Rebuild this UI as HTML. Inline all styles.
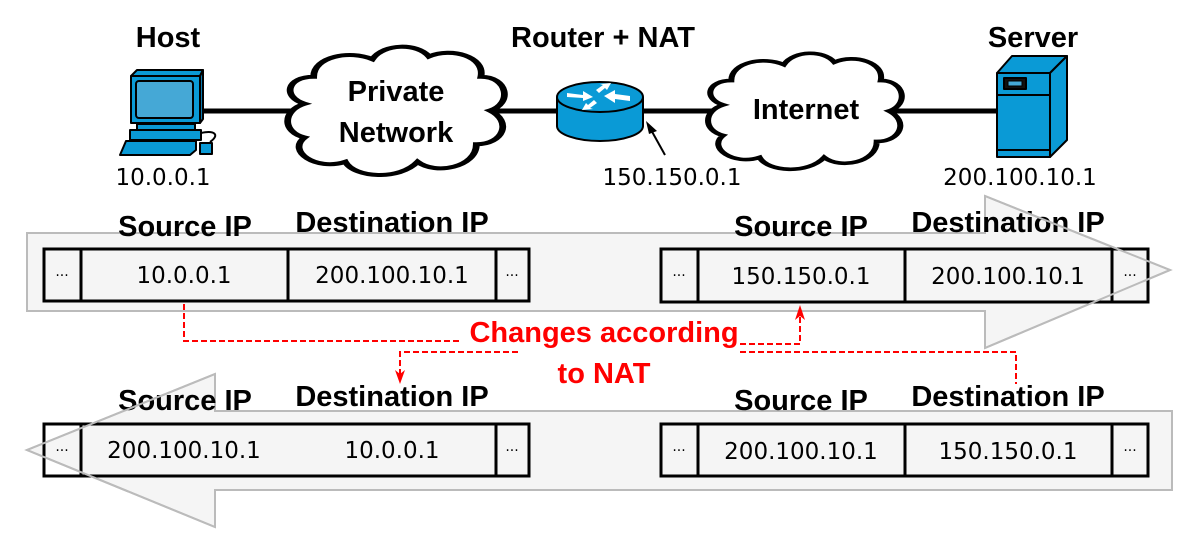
<!DOCTYPE html>
<html><head><meta charset="utf-8"><style>
html,body{margin:0;padding:0;background:#fff;}
svg{display:block;}
text{font-family:"Liberation Sans","DejaVu Sans",sans-serif;}
.b{font-weight:bold;font-size:29px;fill:#000;}
.ip{font-family:"DejaVu Sans","Liberation Sans",sans-serif;font-size:23px;fill:#000;}
.el{font-family:"DejaVu Sans",sans-serif;font-size:14px;fill:#000;}
.r{font-weight:bold;font-size:29px;fill:#f00;}
</style></head><body>
<svg width="1200" height="555" viewBox="0 0 1200 555" xmlns="http://www.w3.org/2000/svg">
<defs>
<path id="cloud" d="M10,45 C0,40 2,25 14,25 C14,10 30,5 40,12 C45,0 60,0 65,10 C75,3 90,10 88,25 C100,25 102,45 92,50 C102,58 98,75 86,75 C86,92 68,98 60,88 C52,102 32,100 28,88 C15,95 2,80 10,70 C0,66 0,50 10,45 Z"/>
</defs>
<polygon points="27,233 985,233 985,196 1170,270 985,348 985,311 27,311" fill="#f5f5f5" stroke="#bbb" stroke-width="2"/>
<polygon points="1172,411 215,411 215,374 27,450 215,527 215,490 1172,490" fill="#f5f5f5" stroke="#bbb" stroke-width="2"/>

<line x1="200" y1="111" x2="1000" y2="111" stroke="#000" stroke-width="5"/>
<g transform="translate(282,43) scale(2.26,1.35)"><use href="#cloud" fill="#fff" stroke="#000" stroke-width="3" vector-effect="non-scaling-stroke"/></g>
<g transform="translate(703,50) scale(2.02,1.22)"><use href="#cloud" fill="#fff" stroke="#000" stroke-width="3" vector-effect="non-scaling-stroke"/></g>
<text class="b" x="396" y="101" text-anchor="middle">Private</text>
<text class="b" x="396" y="142" text-anchor="middle">Network</text>
<text class="b" x="806" y="119" text-anchor="middle">Internet</text>

<g stroke="#000" stroke-width="2" stroke-linejoin="round">
<polygon points="131,76 137,70 203,70 200,76" fill="#0a9ad6"/>
<polygon points="200,76 203,70 203,119 200,123" fill="#0a7ab0"/>
<rect x="131" y="76" width="69" height="47" fill="#0a9ad6"/>
<rect x="136" y="81" width="57" height="37" rx="3" fill="#45a8d6"/>
<rect x="130" y="130" width="71" height="10" fill="#0a9ad6"/>
<rect x="137" y="124" width="58" height="6" fill="#0a9ad6"/>
<polygon points="126,141 196,141 196,150 190,155 120,155" fill="#0a9ad6"/>
<path d="M201,133 C215,130 220,135 210,142" fill="none"/>
<rect x="200" y="143" width="12" height="11" fill="#0a9ad6"/>
</g>

<g stroke="#000" stroke-width="2">
<path d="M557,97 L557,126 A43,15 0 0 0 643,126 L643,97" fill="#0a9ad6"/>
<ellipse cx="600" cy="97" rx="43" ry="15" fill="#0a9ad6"/>
</g>
<g fill="#fff">
<polygon points="567,93 583,95 583,91 593,97 583,101 583,98 567,97"/>
<polygon points="616,105 601,103 601,107 590,100 601,94 601,98 616,100" transform="translate(14,-4)"/>
<polygon points="596,90 603,85 600,84 611,83 607,90 605,88 599,93"/>
<polygon points="597,103 590,108 593,109 582,110 586,103 588,105 594,100"/>
</g>
<line x1="665" y1="155" x2="650" y2="128" stroke="#000" stroke-width="2"/>
<polygon points="646,121 657,131 649,134" fill="#000"/>

<g stroke="#000" stroke-width="2" stroke-linejoin="round">
<polygon points="997,73 1012,56 1067,56 1050,73" fill="#0a9ad6"/>
<polygon points="1050,73 1067,56 1067,140 1050,157" fill="#0a9ad6"/>
<rect x="997" y="73" width="53" height="84" fill="#0a9ad6"/>
<line x1="997" y1="95" x2="1050" y2="95"/>
<line x1="997" y1="150" x2="1050" y2="150"/>
<rect x="1004" y="78" width="22" height="11" fill="#111"/>
<rect x="1008" y="81" width="14" height="5" fill="#45a8d6" stroke-width="1"/>
</g>

<text class="b" x="168" y="47" text-anchor="middle">Host</text>
<text class="b" x="603" y="47" text-anchor="middle">Router + NAT</text>
<text class="b" x="1033" y="47" text-anchor="middle">Server</text>
<text class="ip" x="163" y="185" text-anchor="middle">10.0.0.1</text>
<text class="ip" x="672" y="185" text-anchor="middle">150.150.0.1</text>
<text class="ip" x="1020" y="185" text-anchor="middle">200.100.10.1</text>

<text class="b" x="185" y="236" text-anchor="middle">Source IP</text>
<text class="b" x="392" y="232" text-anchor="middle">Destination IP</text>
<text class="b" x="801" y="236" text-anchor="middle">Source IP</text>
<text class="b" x="1008" y="232" text-anchor="middle">Destination IP</text>
<text class="b" x="185" y="410" text-anchor="middle">Source IP</text>
<text class="b" x="392" y="406" text-anchor="middle">Destination IP</text>
<text class="b" x="801" y="410" text-anchor="middle">Source IP</text>
<text class="b" x="1008" y="406" text-anchor="middle">Destination IP</text>

<g stroke="#000" stroke-width="3" fill="#f5f5f5">
<rect x="44" y="249" width="485" height="52"/>
<line x1="81" y1="249" x2="81" y2="301"/><line x1="288" y1="249" x2="288" y2="301"/><line x1="496" y1="249" x2="496" y2="301"/>
<rect x="661" y="249" width="487" height="53"/>
<line x1="698" y1="249" x2="698" y2="302"/><line x1="905" y1="249" x2="905" y2="302"/><line x1="1112" y1="249" x2="1112" y2="302"/>
<rect x="44" y="424" width="485" height="52" fill="none"/>
<line x1="81" y1="424" x2="81" y2="476"/><line x1="288" y1="424" x2="288" y2="476"/><line x1="496" y1="424" x2="496" y2="476"/>
<rect x="661" y="424" width="487" height="52"/>
<line x1="698" y1="424" x2="698" y2="476"/><line x1="905" y1="424" x2="905" y2="476"/><line x1="1112" y1="424" x2="1112" y2="476"/>
</g>
<rect x="82.5" y="425.5" width="412" height="49" fill="#f5f5f5"/>
<text class="el" x="62" y="280" text-anchor="middle">···</text>
<text class="ip" x="184" y="283" text-anchor="middle">10.0.0.1</text>
<text class="ip" x="392" y="283" text-anchor="middle">200.100.10.1</text>
<text class="el" x="512" y="280" text-anchor="middle">···</text>
<text class="el" x="679" y="280" text-anchor="middle">···</text>
<text class="ip" x="801" y="284" text-anchor="middle">150.150.0.1</text>
<text class="ip" x="1008" y="284" text-anchor="middle">200.100.10.1</text>
<text class="el" x="1130" y="280" text-anchor="middle">···</text>
<text class="el" x="62" y="455" text-anchor="middle">···</text>
<text class="ip" x="184" y="458" text-anchor="middle">200.100.10.1</text>
<text class="ip" x="392" y="458" text-anchor="middle">10.0.0.1</text>
<text class="el" x="512" y="455" text-anchor="middle">···</text>
<text class="el" x="679" y="455" text-anchor="middle">···</text>
<text class="ip" x="801" y="459" text-anchor="middle">200.100.10.1</text>
<text class="ip" x="1008" y="459" text-anchor="middle">150.150.0.1</text>
<text class="el" x="1130" y="455" text-anchor="middle">···</text>
<polyline points="215,374 27,450 215,527" fill="none" stroke="#bbb" stroke-width="2"/>
<polyline points="985,196 1170,270 985,348" fill="none" stroke="#bbb" stroke-width="2"/>

<g stroke="#f00" stroke-width="2" fill="none" stroke-dasharray="6,3">
<polyline points="184,304 184,341 460,341"/>
<polyline points="518,352 400,352 400,376"/>
<polyline points="740,344 800,344 800,316"/>
<polyline points="740,352 1016,352 1016,384"/>
</g>
<polygon points="400,384 395,370 400,374 405,370" fill="#f00"/>
<polygon points="800,305 795,320 800,316 805,320" fill="#f00"/>
<text class="r" x="604" y="342" text-anchor="middle">Changes according</text>
<text class="r" x="604" y="383" text-anchor="middle">to NAT</text>
</svg>
</body></html>
